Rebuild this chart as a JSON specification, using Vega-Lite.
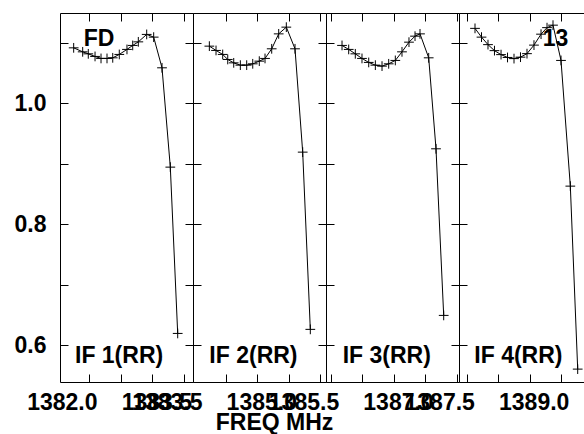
{
  "$schema": "https://vega.github.io/schema/vega-lite/v6.json",
  "autosize": {"type": "pad"},
  "padding": {"left": 13, "top": 12, "right": 0, "bottom": 5},
  "spacing": 0,
  "bounds": "flush",
  "datasets": {
    "ch": [
      {"p": 1, "f": 1382.252, "v": 1.0914}, {"p": 1, "f": 1382.395, "v": 1.0848}, {"p": 1, "f": 1382.484, "v": 1.0815}, {"p": 1, "f": 1382.591, "v": 1.0772},
      {"p": 1, "f": 1382.686, "v": 1.0739}, {"p": 1, "f": 1382.781, "v": 1.0739}, {"p": 1, "f": 1382.872, "v": 1.0749}, {"p": 1, "f": 1382.976, "v": 1.0805},
      {"p": 1, "f": 1383.098, "v": 1.0888}, {"p": 1, "f": 1383.189, "v": 1.0954}, {"p": 1, "f": 1383.278, "v": 1.1013}, {"p": 1, "f": 1383.411, "v": 1.1136},
      {"p": 1, "f": 1383.522, "v": 1.1091}, {"p": 1, "f": 1383.654, "v": 1.0584}, {"p": 1, "f": 1383.786, "v": 0.8942}, {"p": 1, "f": 1383.903, "v": 0.6193},
      {"p": 2, "f": 1384.239, "v": 1.0942}, {"p": 2, "f": 1384.345, "v": 1.0871}, {"p": 2, "f": 1384.451, "v": 1.0805}, {"p": 2, "f": 1384.531, "v": 1.0722},
      {"p": 2, "f": 1384.626, "v": 1.0666}, {"p": 2, "f": 1384.731, "v": 1.0628}, {"p": 2, "f": 1384.832, "v": 1.0628}, {"p": 2, "f": 1384.928, "v": 1.0650},
      {"p": 2, "f": 1385.032, "v": 1.0694}, {"p": 2, "f": 1385.123, "v": 1.0739}, {"p": 2, "f": 1385.229, "v": 1.0898}, {"p": 2, "f": 1385.340, "v": 1.1145},
      {"p": 2, "f": 1385.461, "v": 1.1256}, {"p": 2, "f": 1385.599, "v": 1.0898}, {"p": 2, "f": 1385.721, "v": 0.9190}, {"p": 2, "f": 1385.842, "v": 0.6260},
      {"p": 3, "f": 1386.175, "v": 1.0954}, {"p": 3, "f": 1386.281, "v": 1.0888}, {"p": 3, "f": 1386.386, "v": 1.0815}, {"p": 3, "f": 1386.492, "v": 1.0739},
      {"p": 3, "f": 1386.599, "v": 1.0673}, {"p": 3, "f": 1386.704, "v": 1.0628}, {"p": 3, "f": 1386.810, "v": 1.0612}, {"p": 3, "f": 1386.916, "v": 1.0650},
      {"p": 3, "f": 1387.021, "v": 1.0706}, {"p": 3, "f": 1387.127, "v": 1.0848}, {"p": 3, "f": 1387.238, "v": 1.1008}, {"p": 3, "f": 1387.334, "v": 1.1107},
      {"p": 3, "f": 1387.413, "v": 1.1145}, {"p": 3, "f": 1387.551, "v": 1.0749}, {"p": 3, "f": 1387.667, "v": 0.9245}, {"p": 3, "f": 1387.789, "v": 0.6491},
      {"p": 4, "f": 1388.132, "v": 1.1236}, {"p": 4, "f": 1388.235, "v": 1.1091}, {"p": 4, "f": 1388.338, "v": 1.0967}, {"p": 4, "f": 1388.441, "v": 1.0868},
      {"p": 4, "f": 1388.545, "v": 1.0802}, {"p": 4, "f": 1388.648, "v": 1.0755}, {"p": 4, "f": 1388.751, "v": 1.0736}, {"p": 4, "f": 1388.854, "v": 1.0760},
      {"p": 4, "f": 1388.957, "v": 1.0818}, {"p": 4, "f": 1389.068, "v": 1.0959}, {"p": 4, "f": 1389.180, "v": 1.1140}, {"p": 4, "f": 1389.275, "v": 1.1248},
      {"p": 4, "f": 1389.370, "v": 1.1289}, {"p": 4, "f": 1389.497, "v": 1.0706}, {"p": 4, "f": 1389.645, "v": 0.8628}, {"p": 4, "f": 1389.762, "v": 0.5603}
    ]
  },
  "hconcat": [
    {
      "width": 133, "height": 369,
      "layer": [
        {
          "data": {"name": "ch"}, "transform": [{"filter": "datum.p == 1"}],
          "mark": {"type": "line", "color": "#000", "strokeWidth": 1},
          "encoding": {
            "x": {"field": "f", "type": "quantitative", "scale": {"domain": [1382.0, 1384.146], "range": [-2.2, 133], "nice": false, "zero": false},
              "axis": {"orient": "bottom", "title": null, "format": ".1f", "values": [1382.0, 1382.5, 1383.0, 1383.5, 1384.0],
                "labelExpr": "datum.value == 1382 || datum.value == 1383.5 ? datum.label : ''",
                "tickOpacity": {"condition": {"test": "datum.value < 1382.03", "value": 0}, "value": 1}}},
            "y": {"field": "v", "type": "quantitative", "scale": {"domain": [0.539, 1.149], "nice": false, "zero": false},
              "axis": {"orient": "left", "title": null, "format": ".1f", "values": [0.6, 0.7, 0.8, 0.9, 1.0, 1.1],
                "labelExpr": "indexof(['0.6','0.8','1.0'], datum.label) >= 0 ? datum.label : ''"}}
          }
        },
        {
          "data": {"name": "ch"}, "transform": [{"filter": "datum.p == 1"}],
          "mark": {"type": "point", "shape": "M-1,0H1M0,-1V1", "size": 95, "filled": false, "color": "#000", "strokeWidth": 1, "opacity": 1},
          "encoding": {
            "x": {"field": "f", "type": "quantitative",
              "axis": {"orient": "top", "title": null, "labels": false, "values": [1382.0, 1382.5, 1383.0, 1383.5, 1384.0],
                "tickOpacity": {"condition": {"test": "datum.value < 1382.03", "value": 0}, "value": 1}}},
            "y": {"field": "v", "type": "quantitative",
              "axis": {"orient": "right", "title": null, "labels": false, "values": [0.6, 0.7, 0.8, 0.9, 1.0, 1.1]}}
          }
        },
        {
          "data": {"values": [{"label": "IF 1(RR)"}]},
          "mark": {"type": "text", "align": "left", "baseline": "alphabetic", "font": "Liberation Sans", "fontSize": 23, "fontWeight": "bold", "color": "#000"},
          "encoding": {"x": {"datum": 1382.273, "type": "quantitative", "axis": null}, "y": {"datum": 0.5712, "type": "quantitative", "axis": null}, "text": {"field": "label"}}
        },
        {
          "data": {"values": [{"label": "FD"}]},
          "mark": {"type": "text", "align": "left", "baseline": "alphabetic", "font": "Liberation Sans", "fontSize": 23, "fontWeight": "bold", "color": "#000"},
          "encoding": {"x": {"datum": 1382.411, "type": "quantitative", "axis": null}, "y": {"datum": 1.0942, "type": "quantitative", "axis": null}, "text": {"field": "label"}}
        }
      ]
    },
    {
      "width": 133, "height": 369,
      "layer": [
        {
          "data": {"name": "ch"}, "transform": [{"filter": "datum.p == 2"}],
          "mark": {"type": "line", "color": "#000", "strokeWidth": 1},
          "encoding": {
            "x": {"field": "f", "type": "quantitative", "scale": {"domain": [1383.5, 1386.091], "range": [-30.2, 133], "nice": false, "zero": false},
              "axis": {"orient": "bottom", "title": "FREQ MHz", "titleX": 81, "titleY": 29, "titleBaseline": "top", "titleAlign": "center", "format": ".1f", "values": [1383.5, 1384.5, 1385.0, 1385.5, 1386.0],
                "labelExpr": "datum.value == 1383.5 || datum.value == 1385 ? datum.label : ''",
                "tickOpacity": {"condition": {"test": "datum.value < 1383.97", "value": 0}, "value": 1}}},
            "y": {"field": "v", "type": "quantitative", "scale": {"domain": [0.539, 1.149], "nice": false, "zero": false},
              "axis": {"orient": "left", "title": null, "labels": false, "values": [0.6, 0.7, 0.8, 0.9, 1.0, 1.1]}}
          }
        },
        {
          "data": {"name": "ch"}, "transform": [{"filter": "datum.p == 2"}],
          "mark": {"type": "point", "shape": "M-1,0H1M0,-1V1", "size": 95, "filled": false, "color": "#000", "strokeWidth": 1, "opacity": 1},
          "encoding": {
            "x": {"field": "f", "type": "quantitative",
              "axis": {"orient": "top", "title": null, "labels": false, "values": [1383.5, 1384.5, 1385.0, 1385.5, 1386.0],
                "tickOpacity": {"condition": {"test": "datum.value < 1383.97", "value": 0}, "value": 1}}},
            "y": {"field": "v", "type": "quantitative",
              "axis": {"orient": "right", "title": null, "labels": false, "values": [0.6, 0.7, 0.8, 0.9, 1.0, 1.1]}}
          }
        },
        {
          "data": {"values": [{"label": "IF 2(RR)"}]},
          "mark": {"type": "text", "align": "left", "baseline": "alphabetic", "font": "Liberation Sans", "fontSize": 23, "fontWeight": "bold", "color": "#000"},
          "encoding": {"x": {"datum": 1384.239, "type": "quantitative", "axis": null}, "y": {"datum": 0.5712, "type": "quantitative", "axis": null}, "text": {"field": "label"}}
        }
      ]
    },
    {
      "width": 133, "height": 369,
      "layer": [
        {
          "data": {"name": "ch"}, "transform": [{"filter": "datum.p == 3"}],
          "mark": {"type": "line", "color": "#000", "strokeWidth": 1},
          "encoding": {
            "x": {"field": "f", "type": "quantitative", "scale": {"domain": [1385.5, 1388.032], "range": [-26.5, 133], "nice": false, "zero": false},
              "axis": {"orient": "bottom", "title": null, "format": ".1f", "values": [1385.5, 1386.0, 1386.5, 1387.0, 1387.5, 1388.0],
                "labelExpr": "datum.value == 1385.5 || datum.value == 1387 ? datum.label : ''",
                "tickOpacity": {"condition": {"test": "datum.value < 1385.91", "value": 0}, "value": 1}}},
            "y": {"field": "v", "type": "quantitative", "scale": {"domain": [0.539, 1.149], "nice": false, "zero": false},
              "axis": {"orient": "left", "title": null, "labels": false, "values": [0.6, 0.7, 0.8, 0.9, 1.0, 1.1]}}
          }
        },
        {
          "data": {"name": "ch"}, "transform": [{"filter": "datum.p == 3"}],
          "mark": {"type": "point", "shape": "M-1,0H1M0,-1V1", "size": 95, "filled": false, "color": "#000", "strokeWidth": 1, "opacity": 1},
          "encoding": {
            "x": {"field": "f", "type": "quantitative",
              "axis": {"orient": "top", "title": null, "labels": false, "values": [1385.5, 1386.0, 1386.5, 1387.0, 1387.5, 1388.0],
                "tickOpacity": {"condition": {"test": "datum.value < 1385.91", "value": 0}, "value": 1}}},
            "y": {"field": "v", "type": "quantitative",
              "axis": {"orient": "right", "title": null, "labels": false, "values": [0.6, 0.7, 0.8, 0.9, 1.0, 1.1]}}
          }
        },
        {
          "data": {"values": [{"label": "IF 3(RR)"}]},
          "mark": {"type": "text", "align": "left", "baseline": "alphabetic", "font": "Liberation Sans", "fontSize": 23, "fontWeight": "bold", "color": "#000"},
          "encoding": {"x": {"datum": 1386.186, "type": "quantitative", "axis": null}, "y": {"datum": 0.5712, "type": "quantitative", "axis": null}, "text": {"field": "label"}}
        }
      ]
    },
    {
      "width": 133, "height": 369,
      "layer": [
        {
          "data": {"name": "ch"}, "transform": [{"filter": "datum.p == 4"}],
          "mark": {"type": "line", "color": "#000", "strokeWidth": 1},
          "encoding": {
            "x": {"field": "f", "type": "quantitative", "scale": {"domain": [1387.5, 1389.989], "range": [-23.8, 133], "nice": false, "zero": false},
              "axis": {"orient": "bottom", "title": null, "format": ".1f", "values": [1387.5, 1388.0, 1388.5, 1389.0, 1389.5],
                "labelExpr": "datum.value == 1387.5 || datum.value == 1389 ? datum.label : ''",
                "tickOpacity": {"condition": {"test": "datum.value < 1387.87", "value": 0}, "value": 1}}},
            "y": {"field": "v", "type": "quantitative", "scale": {"domain": [0.539, 1.149], "nice": false, "zero": false},
              "axis": {"orient": "left", "title": null, "labels": false, "values": [0.6, 0.7, 0.8, 0.9, 1.0, 1.1]}}
          }
        },
        {
          "data": {"name": "ch"}, "transform": [{"filter": "datum.p == 4"}],
          "mark": {"type": "point", "shape": "M-1,0H1M0,-1V1", "size": 95, "filled": false, "color": "#000", "strokeWidth": 1, "opacity": 1},
          "encoding": {
            "x": {"field": "f", "type": "quantitative",
              "axis": {"orient": "top", "title": null, "labels": false, "values": [1387.5, 1388.0, 1388.5, 1389.0, 1389.5],
                "tickOpacity": {"condition": {"test": "datum.value < 1387.87", "value": 0}, "value": 1}}},
            "y": {"field": "v", "type": "quantitative",
              "axis": {"orient": "right", "title": null, "labels": false, "values": [0.6, 0.7, 0.8, 0.9, 1.0, 1.1]}}
          }
        },
        {
          "data": {"values": [{"label": "IF 4(RR)"}]},
          "mark": {"type": "text", "align": "left", "baseline": "alphabetic", "font": "Liberation Sans", "fontSize": 23, "fontWeight": "bold", "color": "#000"},
          "encoding": {"x": {"datum": 1388.121, "type": "quantitative", "axis": null}, "y": {"datum": 0.5712, "type": "quantitative", "axis": null}, "text": {"field": "label"}}
        },
        {
          "data": {"values": [{"label": "13"}]},
          "mark": {"type": "text", "align": "left", "baseline": "alphabetic", "font": "Liberation Sans", "fontSize": 23, "fontWeight": "bold", "color": "#000"},
          "encoding": {"x": {"datum": 1389.207, "type": "quantitative", "axis": null}, "y": {"datum": 1.0942, "type": "quantitative", "axis": null}, "text": {"field": "label"}}
        }
      ]
    }
  ],
  "config": {
    "view": {"stroke": "#000", "strokeWidth": 1},
    "axis": {
      "domain": false, "grid": false, "ticks": true, "tickSize": -8, "tickColor": "#000", "tickWidth": 1,
      "labelFont": "Liberation Sans", "labelFontSize": 23, "labelFontWeight": "bold", "labelColor": "#000",
      "labelFlush": false, "labelOverlap": false, "labelBound": false,
      "titleFont": "Liberation Sans", "titleFontSize": 23, "titleFontWeight": "bold", "titleColor": "#000"
    },
    "axisX": {"labelPadding": 17, "labelOffset": 4},
    "axisY": {"labelPadding": 22}
  }
}
